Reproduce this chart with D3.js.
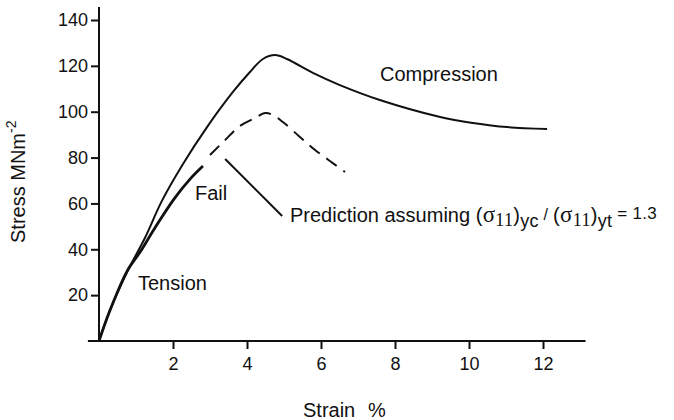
<!DOCTYPE html>
<html>
<head>
<meta charset="utf-8">
<script src="https://cdn.jsdelivr.net/npm/d3@7"></script>
<style>
  body { margin: 0; background: #fff; }
  svg { display: block; }
  text { font-family: "Liberation Sans", Arial, Helvetica, sans-serif; fill: #111; }
</style>
</head>
<body>
<svg id="chart"></svg>
<script>
const width = 674, height = 420;

// tick values
const xTicks = [2, 4, 6, 8, 10, 12];
const yTicks = [20, 40, 60, 80, 100, 120, 140];

// compression curve (strain %, stress MNm-2)
const compStrain = [0, 0.30, 0.76, 1.24, 1.70, 2.27, 2.92, 3.62, 4.08, 4.43, 4.76, 5.08, 5.78, 6.51, 7.59, 9.22, 10.11, 11.03, 12.11];
const compStress = [0, 13.5, 30.1, 44.9, 61.1, 77.2, 93.3, 108.6, 117.3, 123.0, 124.7, 123.0, 116.9, 111.6, 105.1, 97.7, 95.1, 93.3, 92.5];

// tension curve up to failure
const tensStrain = [0, 0.30, 0.76, 1.11, 1.51, 2.05, 2.46, 2.81];
const tensStress = [0, 13.5, 30.5, 38.8, 49.3, 62.4, 70.6, 76.3];

// predicted curve (dashed)
const predStrain = [3.0, 3.41, 3.81, 4.22, 4.49, 4.70, 4.97, 5.43, 5.84, 6.32, 6.65];
const predStress = [81.1, 87.7, 93.8, 97.3, 99.4, 98.6, 95.5, 89.0, 83.3, 77.6, 73.7];

// leader line from the dashed curve to its label
const leaderStrain = [3.41, 4.95];
const leaderStress = [79.4, 54.5];

const svg = d3.select("#chart")
  .attr("width", width)
  .attr("height", height);

const x = d3.scaleLinear().domain([0, 12]).range([99, 543]);
const y = d3.scaleLinear().domain([0, 140]).range([341, 20]);

// axis lines drawn a bit past the tick range, like the original
svg.append("line")
  .attr("x1", x(-0.3)).attr("x2", x(13.15))
  .attr("y1", y(0)).attr("y2", y(0))
  .attr("stroke", "#111").attr("stroke-width", 2);

svg.append("line")
  .attr("x1", x(0)).attr("x2", x(0))
  .attr("y1", y(0)).attr("y2", y(145.7))
  .attr("stroke", "#111").attr("stroke-width", 2);

const xAxis = svg.append("g")
  .attr("transform", `translate(0,${y(0)})`)
  .call(d3.axisBottom(x).tickValues(xTicks).tickSize(8).tickPadding(8).tickSizeOuter(0));
xAxis.select(".domain").remove();

const yAxis = svg.append("g")
  .attr("transform", `translate(${x(0)},0)`)
  .call(d3.axisLeft(y).tickValues(yTicks).tickSize(8).tickPadding(3).tickSizeOuter(0));
yAxis.select(".domain").remove();

svg.selectAll(".tick line").attr("stroke", "#111").attr("stroke-width", 2);
svg.selectAll(".tick text")
  .attr("fill", "#111")
  .style("font-size", "18px")
  .style("font-family", "'Liberation Sans', Arial, sans-serif");

// curves
const line = d3.line()
  .x(d => x(d[0]))
  .y(d => y(d[1]))
  .curve(d3.curveCatmullRom.alpha(0.5));

const comp = d3.zip(compStrain, compStress);
const tens = d3.zip(tensStrain, tensStress);
const pred = d3.zip(predStrain, predStress);

svg.append("path")
  .attr("d", line(comp))
  .attr("fill", "none")
  .attr("stroke", "#111")
  .attr("stroke-width", 2);

svg.append("path")
  .attr("d", line(tens))
  .attr("fill", "none")
  .attr("stroke", "#111")
  .attr("stroke-width", 2.8);

svg.append("path")
  .attr("d", line(pred))
  .attr("fill", "none")
  .attr("stroke", "#111")
  .attr("stroke-width", 2)
  .attr("stroke-dasharray", "13,8");

svg.append("line")
  .attr("x1", x(leaderStrain[0])).attr("y1", y(leaderStress[0]))
  .attr("x2", x(leaderStrain[1])).attr("y2", y(leaderStress[1]))
  .attr("stroke", "#111").attr("stroke-width", 2);

// annotations
svg.append("text").attr("x", 380).attr("y", 81).style("font-size", "20px").text("Compression");
svg.append("text").attr("x", 195).attr("y", 200).style("font-size", "20px").text("Fail");
svg.append("text").attr("x", 138).attr("y", 290).style("font-size", "20px").text("Tension");

const serif = "'Liberation Serif', 'Times New Roman', serif";
const pt = svg.append("text").attr("x", 290).attr("y", 222).style("font-size", "20px");
pt.append("tspan").text("Prediction assuming ");
const formula = pt.append("tspan").style("letter-spacing", "0.3px");
formula.append("tspan").text("(");
formula.append("tspan").style("font-family", serif).style("font-size", "23px").text("σ");
formula.append("tspan").style("font-family", serif).style("font-size", "18px").attr("dy", 4).text("11");
formula.append("tspan").attr("dy", -4).text(")");
formula.append("tspan").style("font-size", "18px").attr("dy", 5).text("yc");
formula.append("tspan").style("font-size", "16px").attr("dy", -7).text(" / ");
formula.append("tspan").attr("dy", 2).text("(");
formula.append("tspan").style("font-family", serif).style("font-size", "23px").text("σ");
formula.append("tspan").style("font-family", serif).style("font-size", "18px").attr("dy", 4).text("11");
formula.append("tspan").attr("dy", -4).text(")");
formula.append("tspan").style("font-size", "18px").attr("dy", 5).text("yt");
formula.append("tspan").style("font-size", "17px").attr("dy", -8).text(" = 1.3");

// axis titles
svg.append("text").attr("x", 303).attr("y", 417).style("font-size", "20px").text("Strain");
svg.append("text").attr("x", 368).attr("y", 417).style("font-size", "20px").text("%");

const yl = svg.append("text")
  .attr("transform", "translate(25,243) rotate(-90)")
  .style("font-size", "20px");
yl.append("tspan").text("Stress MNm");
yl.append("tspan").style("font-size", "14px").attr("dy", -9).text("-2");
</script>
</body>
</html>
